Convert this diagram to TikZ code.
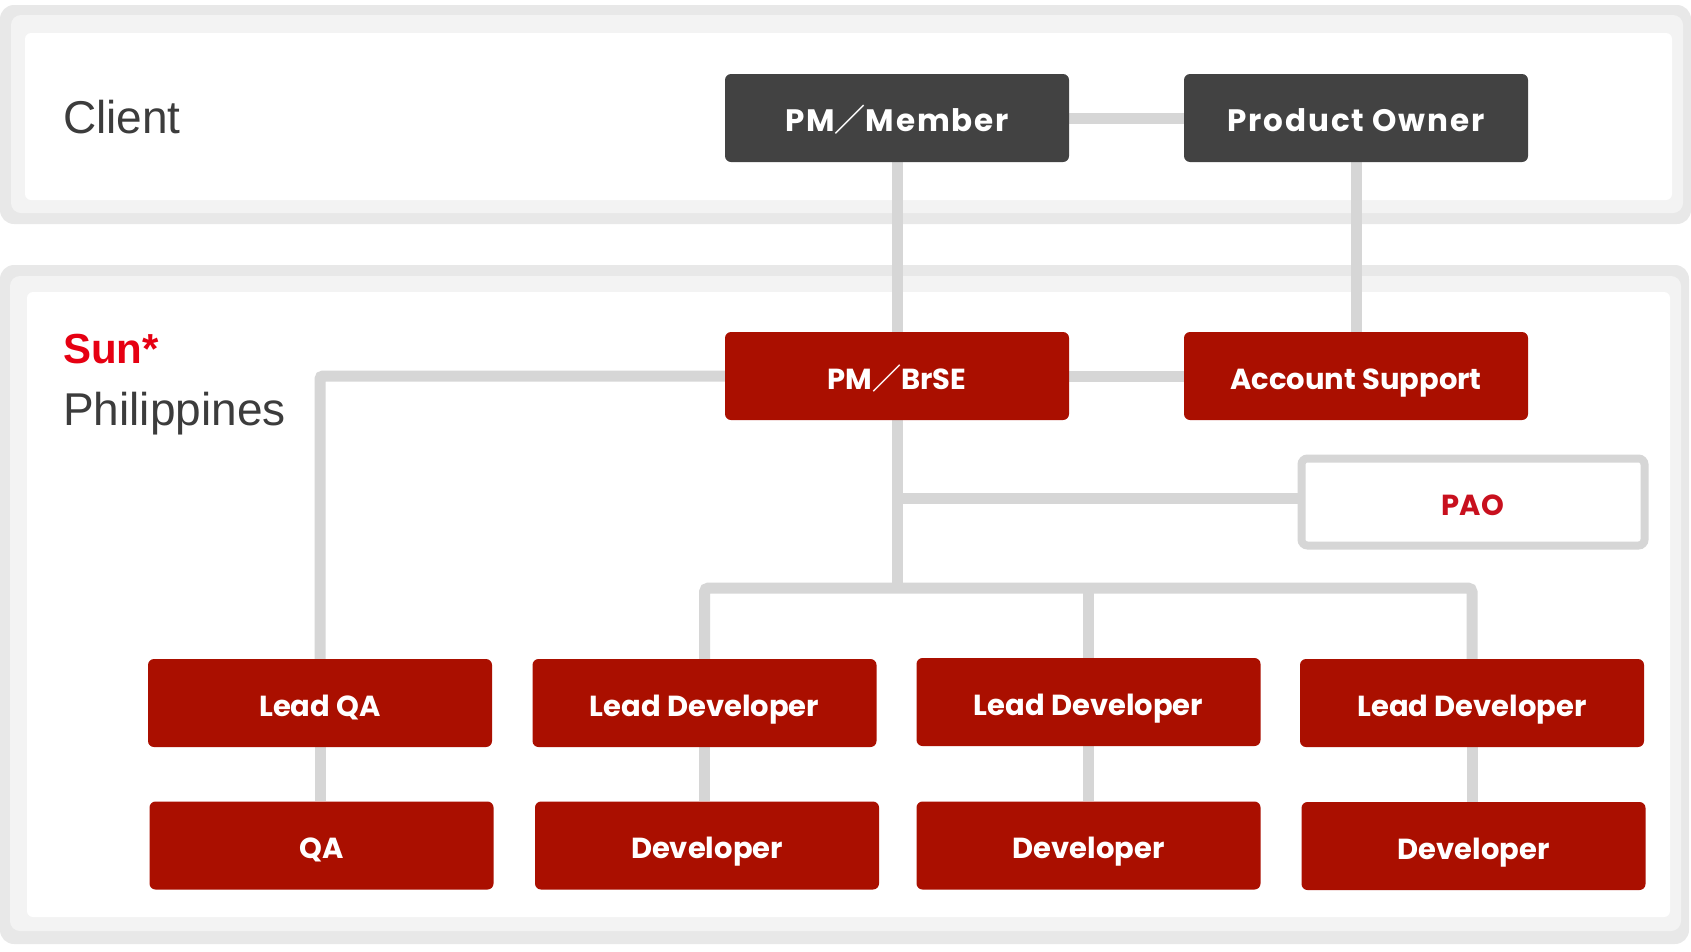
\documentclass[tikz,border=0pt]{standalone}
\usepackage{fontspec}
\setmainfont{Poppins}
\newfontfamily\helv{Liberation Sans}
\newfontfamily\cjk{Noto Sans CJK JP}
\newfontfamily\popwide{Poppins}[LetterSpace=6]
\usetikzlibrary{backgrounds}
\definecolor{cDark}{HTML}{424242}
\definecolor{cRed}{HTML}{AA0F00}
\definecolor{cConn}{HTML}{D6D6D6}
\definecolor{cOut}{HTML}{E8E8E8}
\definecolor{cBand}{HTML}{F3F3F3}
\definecolor{cSun}{HTML}{E60012}
\definecolor{cLabel}{HTML}{3C3C3C}
\definecolor{cPao}{HTML}{C8101E}
\begin{document}
\begin{tikzpicture}[x=1pt,y=-1pt,
  box/.style={rounded corners=6pt, minimum width=344pt, minimum height=88pt,
    inner sep=0pt, text=white, font=\fontsize{29}{34}\selectfont\bfseries,
    text height=26pt, text depth=0pt},
  darkbox/.style={box, fill=cDark, font=\popwide\fontsize{31}{36}\selectfont\bfseries,
    text height=27pt},
  redbox/.style={box, fill=cRed},
  outlinebox/.style={box, draw=cConn, line width=8pt, fill=white, text=cPao,
    minimum width=343pt, minimum height=87pt},
  link/.style={draw=cConn, line width=11pt},
  paneltext/.style={anchor=base west, inner sep=0pt, text=cLabel,
    font=\helv\fontsize{46}{52}\selectfont},
]
\useasboundingbox (0,0) rectangle (1691,951);

% labels
\node[paneltext] (client) at (63,133) {Client};
\node[paneltext, text=cSun, font=\helv\bfseries\fontsize{42}{48}\selectfont] (sun) at (63,363) {Sun*};
\node[paneltext] (ph) at (63,425) {Philippines};

% boxes
\node[darkbox] (pmm) at (897,118) {PM{\cjk\bfseries ／}Member};
\node[darkbox] (po) at (1356,118) {Product Owner};
\node[redbox] (pmb) at (897,376) {PM{\cjk\bfseries ／}BrSE};
\node[redbox] (as) at (1356,376) {Account Support};
\node[outlinebox] (pao) at (1473,502) {PAO};

\node[redbox] (lqa) at (320,703) {Lead QA};
\node[redbox] (ld1) at (704.5,703) {Lead Developer};
\node[redbox] (ld2) at (1088.5,702) {Lead Developer};
\node[redbox] (ld3) at (1472,703) {Lead Developer};

\node[redbox] (qa) at (321.5,845.5) {QA};
\node[redbox] (dev1) at (707,845.5) {Developer};
\node[redbox] (dev2) at (1088.5,845.5) {Developer};
\node[redbox] (dev3) at (1473.5,846) {Developer};

\coordinate (busy) at (0,588);
\coordinate (paoy) at (0,498);

\begin{scope}[on background layer]
  % panels
  \fill[cOut, rounded corners=14pt] (0,5) rectangle (1691,224);
  \fill[cBand, rounded corners=10pt] (11,15) rectangle (1683,213);
  \fill[white, rounded corners=6pt] (25,33) rectangle (1672,200);
  \fill[cOut, rounded corners=14pt] (0,265) rectangle (1689,944);
  \fill[cBand, rounded corners=10pt] (10,276) rectangle (1681,931);
  \fill[white, rounded corners=6pt] (27,292) rectangle (1670,917);
  % connectors
  \draw[link] (pmm) -- (po);
  \draw[link] (pmm) -- (pmb);
  \draw[link] (po) -- (as);
  \draw[link] (pmb) -- (as);
  \draw[link, rounded corners=3pt] (pmb.west) -| (lqa.north);
  \draw[link] (pmb.south) -- (pmb.south |- busy);
  \draw[link] (pmb.south |- paoy) -- (pao.west |- paoy);
  \draw[link, rounded corners=4pt] (ld1.north) |- (ld3.north |- busy) -- (ld3.north);
  \draw[link] (ld2.north) -- (ld2.north |- busy);
  \draw[link] (lqa.south) -- (lqa.south |- qa.north);
  \draw[link] (ld1.south) -- (ld1.south |- dev1.north);
  \draw[link] (ld2.south) -- (ld2.south |- dev2.north);
  \draw[link] (ld3.south) -- (ld3.south |- dev3.north);
\end{scope}
\end{tikzpicture}
\end{document}
